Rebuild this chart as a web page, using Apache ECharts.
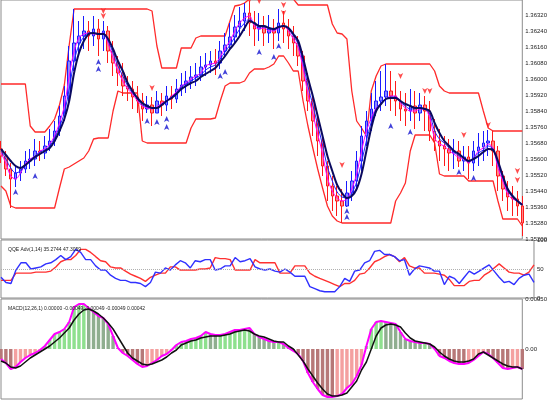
<!DOCTYPE html>
<html>
<head>
<meta charset="utf-8">
<script src="https://cdn.jsdelivr.net/npm/echarts@6/dist/echarts.min.js"></script>
<style>html,body{margin:0;padding:0;background:#fff}#c{width:550px;height:400px}</style>
</head>
<body>
<div id="c"></div>
<script>
// Prices are stored as points (0.00001) above BASE
const BASE = 1.35;
const open = [650,615,550,500,530,550,590,600,640,630,
665,690,740,815,915,1090,1180,1215,1240,1215,
1250,1200,1240,1140,1080,1030,965,950,910,890,
850,870,830,890,870,915,900,950,970,990,
1010,1020,1060,1070,1090,1080,1140,1170,1210,1260,
1290,1330,1280,1250,1260,1230,1250,1230,1280,1250,
1215,1180,1115,990,890,790,690,565,465,415,
390,365,430,490,590,715,790,850,890,910,
940,915,890,850,840,865,830,870,840,740,
690,665,650,630,640,590,610,580,640,660,
680,690,640,515,450,410,400,365];
const close = [615,550,500,530,550,590,600,640,630,665,
690,740,815,915,1090,1180,1215,1240,1215,1250,
1200,1240,1140,1080,1030,965,950,910,890,850,
870,830,890,870,915,900,950,970,990,1010,
1020,1060,1070,1090,1080,1140,1170,1210,1260,1290,
1330,1280,1250,1260,1230,1250,1230,1280,1250,1215,
1180,1115,990,890,790,690,565,465,415,390,
365,430,490,590,715,790,850,890,910,940,
915,890,850,840,865,830,870,840,740,690,
665,650,630,640,590,610,580,640,660,680,
690,640,515,450,410,400,365,280];
const high = [690,640,580,565,590,640,650,700,690,715,
750,790,865,965,1165,1350,1290,1315,1290,1315,
1300,1290,1265,1190,1115,1080,1015,990,965,930,
915,910,940,930,965,965,1000,1030,1040,1065,
1080,1115,1130,1140,1150,1190,1230,1280,1320,1360,
1380,1390,1340,1330,1315,1320,1300,1350,1340,1300,
1265,1215,1140,1030,915,815,715,590,515,465,
450,490,540,640,765,840,930,990,1040,1075,
1040,990,940,930,950,940,930,915,890,800,
750,715,700,700,690,665,665,690,730,740,
745,740,665,540,490,465,440,415];
const low = [580,515,355,460,490,530,550,565,590,600,
640,665,715,790,890,1040,1115,1150,1140,1165,
1115,1140,1080,1015,965,915,890,850,830,790,
830,765,830,815,840,850,880,915,930,950,
965,990,1015,1030,1020,1050,1110,1140,1180,1215,
1240,1215,1165,1190,1165,1180,1150,1190,1180,1150,
1115,1065,940,840,715,615,515,390,340,315,
280,360,390,440,540,665,740,815,840,865,
840,815,790,765,790,750,790,740,690,640,
590,565,540,550,560,540,500,540,565,590,
615,565,440,390,340,315,315,215];
const maFast = [630,580,515,500,530,575,600,615,640,650,
675,715,780,865,1015,1140,1205,1225,1230,1225,
1225,1230,1175,1105,1040,990,950,925,890,865,
855,850,860,880,890,915,935,965,980,1000,
1015,1030,1065,1075,1080,1110,1155,1190,1240,1280,
1305,1315,1265,1250,1255,1240,1240,1255,1265,1240,
1200,1155,1055,925,825,725,625,505,440,405,
390,400,450,525,640,740,805,855,880,900,
915,915,880,855,840,840,850,850,805,705,
675,665,640,625,605,600,580,605,640,655,
675,655,555,490,425,400,390,375];
const maMid = [640,600,555,530,540,570,595,615,635,645,
665,705,760,830,950,1090,1170,1210,1230,1230,
1225,1230,1190,1130,1065,1015,965,930,900,870,
860,855,855,875,890,910,930,960,975,990,
1005,1020,1045,1060,1070,1100,1135,1170,1210,1250,
1280,1300,1275,1260,1260,1250,1245,1260,1265,1250,
1215,1175,1080,965,870,770,670,560,490,435,
410,405,430,485,585,690,785,850,880,900,
910,910,885,865,850,850,855,850,825,740,
700,680,655,635,615,605,585,605,630,645,
665,650,575,505,440,410,390,375];
const maSlow = [650,620,590,565,555,570,590,610,625,640,
655,690,740,800,890,1030,1130,1190,1225,1230,
1225,1225,1200,1150,1090,1040,980,940,905,880,
865,855,855,870,890,905,925,950,965,980,
990,1010,1025,1040,1055,1085,1115,1150,1180,1215,
1255,1290,1280,1265,1265,1255,1250,1260,1265,1255,
1225,1190,1105,1005,915,815,715,615,540,470,
430,405,415,450,525,640,755,840,875,900,
905,905,890,875,865,855,855,850,840,780,
730,690,665,640,625,605,590,600,615,635,
650,645,590,515,450,415,390,370];
const channelUpper = [975,975,975,975,975,975,765,735,735,735,
765,800,870,970,1170,1350,1350,1350,1350,1350,
1350,1350,1350,1350,1350,1350,1350,1350,1350,1350,
1350,1340,1165,1055,1055,1055,1055,1155,1155,1155,
1205,1215,1215,1215,1215,1215,1215,1290,1365,1370,
1380,1400,1400,1400,1400,1400,1400,1400,1400,1400,
1400,1370,1370,1370,1370,1370,1370,1370,1275,1230,
1225,1200,940,790,755,715,940,1015,1065,1075,
1075,1075,1075,1075,1075,1075,1075,1075,1075,1040,
965,940,930,930,930,930,930,930,930,840,
755,740,740,740,740,740,740,740];
const channelLower = [465,440,365,355,355,355,355,355,355,355,
355,355,455,550,560,575,590,605,640,700,
705,705,705,840,940,930,930,930,930,690,
680,680,680,680,680,680,680,680,680,755,
800,800,800,800,805,890,965,980,980,980,
990,1030,1050,1050,1050,1060,1075,1115,1115,1080,
1040,1040,890,765,655,550,455,365,315,290,
280,280,280,280,280,280,280,280,280,280,
280,390,430,480,640,720,720,720,720,680,
525,515,515,515,515,515,490,490,490,490,
490,490,390,300,300,300,300,265];
// fractals: [bar index, price points]
const fractalUp = [[21,1325],[21,1300],[31,940],[51,1380],[53,1375],[58,1355],[58,1315],[70,555],[82,1000],[87,925],[88,925],[95,705],[100,755],[106,525],[106,480]];
const fractalDown = [[3,450],[7,530],[20,1100],[20,1065],[30,805],[32,800],[34,815],[34,775],[45,1030],[46,1050],[53,1150],[56,1125],[57,1180],[71,355],[71,325],[80,780],[84,750],[94,550],[97,520]];
// oscillator panel (0..100)
const rsiLine = [35.7,26.8,25.0,48.2,60.7,60.7,50.0,51.8,53.6,58.9,
60.7,66.1,73.2,66.1,71.4,83.9,78.6,66.1,66.1,55.4,
48.2,48.2,39.3,33.9,30.4,30.4,26.8,26.8,25.0,19.6,
26.8,44.6,42.9,51.8,48.2,57.1,64.3,60.7,51.8,64.3,
62.5,66.1,66.1,48.2,50.0,55.4,55.4,69.7,62.5,64.3,
67.9,53.6,50.0,48.2,50.0,46.4,44.6,50.0,44.6,37.5,
37.5,37.5,19.6,16.1,12.5,10.7,10.7,10.7,19.6,33.9,
28.6,46.4,48.2,60.7,64.3,80.4,82.2,75.0,75.0,71.4,
64.3,66.1,39.3,50.0,55.4,53.6,51.8,46.4,46.4,23.2,
37.5,33.9,25.0,35.7,46.4,41.1,46.4,51.8,57.1,46.4,
35.7,26.8,28.6,23.2,33.9,39.3,41.1,26.8];
const rsiSignal = [30.4,30.4,30.4,42.9,42.9,42.9,42.9,44.6,44.6,44.6,
46.4,53.6,62.5,66.1,66.1,73.2,83.9,83.9,78.6,71.4,
64.3,62.5,53.6,51.8,51.8,46.4,41.1,37.5,33.9,28.6,
35.7,39.3,42.9,42.9,53.6,53.6,48.2,48.2,48.2,48.2,
50.0,50.0,51.8,69.7,67.9,67.9,66.1,48.2,48.2,48.2,
48.2,66.1,60.7,60.7,60.7,60.7,42.9,42.9,42.9,55.4,
55.4,55.4,42.9,37.5,33.9,30.4,26.8,23.2,19.6,25.0,
25.0,30.4,41.1,42.9,51.8,62.5,66.1,71.4,75.0,71.4,
62.5,69.7,55.4,51.8,51.8,42.9,42.9,42.9,41.1,39.3,
32.1,21.4,21.4,21.4,28.6,30.4,30.4,39.3,44.6,51.8,
58.9,51.8,44.6,42.9,42.9,39.3,44.6,57.1];
// MACD in points (0.00001)
const macdMain = [-10,-14,-20,-18,-13,-9,-6,-4,-1,3,
9,15,17,20,27,42,45,45,41,37,
33,31,25,13,1,-4,-7,-11,-15,-18,
-17,-14,-11,-7,-5,-1,4,7,8,10,
11,13,17,15,14,14,15,17,19,19,
20,21,15,12,10,8,7,7,5,1,
-2,-5,-12,-24,-33,-40,-46,-48,-48,-47,
-45,-39,-35,-27,-16,3,20,27,28,27,
26,25,17,10,8,7,6,6,5,0,
-7,-9,-12,-14,-15,-15,-14,-11,-7,-3,
-5,-9,-14,-19,-20,-19,-18,-20];
const macdSignal = [-12,-14,-18,-19,-17,-13,-9,-6,-3,0,
3,7,11,16,21,29,35,39,40,38,
35,31,26,20,12,4,-4,-9,-12,-15,
-16,-15,-13,-11,-8,-4,-1,4,6,8,
9,11,12,13,13,13,14,15,17,18,
19,18,15,13,12,10,8,7,7,3,
0,-6,-12,-20,-27,-34,-40,-45,-47,-47,
-46,-44,-38,-32,-21,-13,0,13,21,24,
25,24,22,16,11,8,7,6,5,2,
-3,-7,-10,-12,-13,-13,-12,-10,-5,-3,
-6,-9,-12,-15,-17,-18,-18,-20];
const priceTicks = {min: 1.352, max: 1.36395, step: 0.0008};
const rsiTitle = 'QQE Adv(1,14) 35.2744 47.3059';
const macdTitle = 'MACD(12,26,1) 0.00000 -0.00049 -0.00049 -0.00049 0.00042';

const categories = close.map((_, i) => String(i + 1));
const px = p => +(BASE + p / 100000).toFixed(5);
const candles = close.map((c, i) => [px(open[i]), px(c), px(low[i]), px(high[i])]);
const line = arr => arr.map(px);

const chart = echarts.init(document.getElementById('c'), null, {renderer: 'canvas'});
const gridBase = {show: true, borderColor: '#8c8c8c', borderWidth: 1, backgroundColor: '#fff', left: 1, width: 536};
const lblStyle = {fontSize: 6, color: '#222', margin: 3, fontFamily: 'Liberation Sans'};

chart.setOption({
  animation: false,
  backgroundColor: '#fff',
  title: [
    {text: rsiTitle, left: 3, top: 242, textStyle: {fontSize: 5, fontWeight: 'normal', color: '#222', fontFamily: 'Liberation Sans'}},
    {text: macdTitle, left: 3, top: 301, textStyle: {fontSize: 5, fontWeight: 'normal', color: '#222', fontFamily: 'Liberation Sans'}}
  ],
  grid: [
    Object.assign({top: 0, height: 239}, gridBase),
    Object.assign({top: 240, height: 58}, gridBase),
    Object.assign({top: 299, height: 100}, gridBase)
  ],
  xAxis: [0, 1, 2].map(g => ({type: 'category', gridIndex: g, data: categories, boundaryGap: false, show: false})),
  yAxis: [
    {type: 'value', gridIndex: 0, position: 'right', min: priceTicks.min, max: priceTicks.max, interval: priceTicks.step,
     splitLine: {show: false}, axisLine: {show: false}, axisTick: {show: false},
     axisLabel: Object.assign({showMaxLabel: false, formatter: v => v.toFixed(5)}, lblStyle)},
    {type: 'value', gridIndex: 1, position: 'right', min: 0, max: 100, interval: 50,
     splitLine: {show: false}, axisLine: {show: false}, axisTick: {show: false},
     axisLabel: Object.assign({formatter: v => String(v)}, lblStyle)},
    {type: 'value', gridIndex: 2, position: 'right', min: -0.0005, max: 0.0005, interval: 0.0005,
     splitLine: {show: false}, axisLine: {show: false}, axisTick: {show: false},
     axisLabel: Object.assign({showMinLabel: false, formatter: v => Math.abs(v) < 1e-9 ? '0.00' : v.toFixed(5)}, lblStyle)}
  ],
  series: [
    {type: 'line', name: 'upper', xAxisIndex: 0, yAxisIndex: 0, data: line(channelUpper), symbol: 'none', z: 1,
     lineStyle: {color: '#ff2a2a', width: 1.3}},
    {type: 'line', name: 'lower', xAxisIndex: 0, yAxisIndex: 0, data: line(channelLower), symbol: 'none', z: 1,
     lineStyle: {color: '#ff2a2a', width: 1.3}},
    {type: 'candlestick', xAxisIndex: 0, yAxisIndex: 0, data: candles, barWidth: 3, z: 2,
     itemStyle: {color: '#8a8aff', color0: '#ff8a8a', borderColor: '#1a1aff', borderColor0: '#ff1a1a', borderWidth: 1}},
    {type: 'line', name: 'fast', xAxisIndex: 0, yAxisIndex: 0, data: line(maFast), symbol: 'none', smooth: 0.3, z: 3,
     lineStyle: {color: '#ff00ff', width: 1}},
    {type: 'line', name: 'mid', xAxisIndex: 0, yAxisIndex: 0, data: line(maMid), symbol: 'none', smooth: 0.3, z: 3,
     lineStyle: {color: '#2222ff', width: 1}},
    {type: 'line', name: 'slow', xAxisIndex: 0, yAxisIndex: 0, data: line(maSlow), symbol: 'none', smooth: 0.3, z: 4,
     lineStyle: {color: '#0a0a60', width: 2}},
    {type: 'scatter', xAxisIndex: 0, yAxisIndex: 0, data: fractalUp.map(f => [f[0], px(f[1])]), symbol: 'arrow',
     symbolSize: [4, 6], symbolRotate: 180, z: 5, itemStyle: {color: '#ff2020'}},
    {type: 'scatter', xAxisIndex: 0, yAxisIndex: 0, data: fractalDown.map(f => [f[0], px(f[1])]), symbol: 'arrow',
     symbolSize: [4, 6], z: 5, itemStyle: {color: '#1010d0'}},
    {type: 'line', xAxisIndex: 1, yAxisIndex: 1, data: rsiSignal, symbol: 'none', z: 2,
     lineStyle: {color: '#ff3030', width: 1.4},
     markLine: {silent: true, symbol: 'none', label: {show: false}, data: [{yAxis: 50}],
       lineStyle: {color: '#b0b0b0', type: 'dotted', width: 1}}},
    {type: 'line', xAxisIndex: 1, yAxisIndex: 1, data: rsiLine, symbol: 'none', z: 3,
     lineStyle: {color: '#3030ff', width: 1.4}},
    {type: 'bar', xAxisIndex: 2, yAxisIndex: 2, data: macdMain.map(v => v / 100000), barCategoryGap: '30%', z: 1,
     itemStyle: {color: p => {
       const v = macdMain[p.dataIndex], prev = p.dataIndex > 0 ? macdMain[p.dataIndex - 1] : v;
       if (v >= 0) return v >= prev ? '#8ee08e' : '#8fae8f';
       return v <= prev ? '#b77878' : '#f4a0a0';
     }}},
    {type: 'line', xAxisIndex: 2, yAxisIndex: 2, data: macdMain.map(v => v / 100000), symbol: 'none', z: 3,
     lineStyle: {color: '#ff00ff', width: 2}},
    {type: 'line', xAxisIndex: 2, yAxisIndex: 2, data: macdSignal.map(v => v / 100000), symbol: 'none', z: 4,
     lineStyle: {color: '#111', width: 1.5}}
  ]
});
</script>
</body>
</html>
